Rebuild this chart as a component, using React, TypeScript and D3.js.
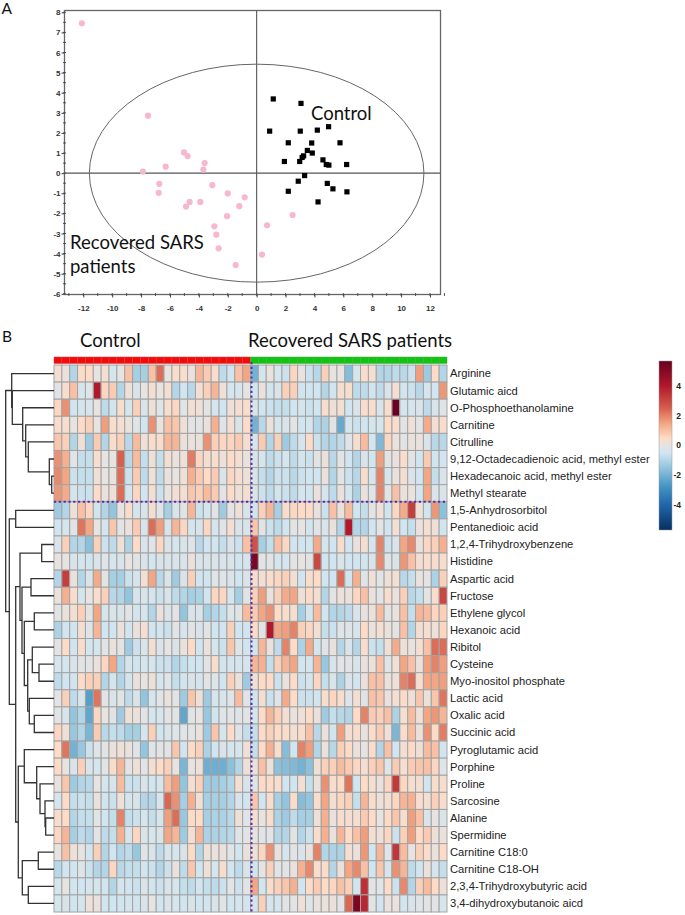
import React, { useEffect, useRef } from 'react';
import * as d3 from 'd3';

// Panel A: PCA scores
const recoveredX = [-12.1, -7.52, -5.03, -4.78, -6.3, -7.87, -3.6, -3.69, -6.74, -6.78, -3.07, -2.0, -0.83, -4.64, -4.89, -3.9, -1.2, -2.05, -2.93, -2.79, -2.63, -1.45, 0.37, 0.72, 2.49];
const recoveredY = [7.45, 2.86, 1.03, 0.85, 0.32, 0.08, 0.5, 0.18, -0.53, -0.98, -0.6, -1.01, -1.2, -1.43, -1.66, -1.43, -1.64, -2.14, -2.64, -3.06, -3.74, -4.57, -4.05, -2.59, -2.08];
const controlX = [1.15, 3.07, 0.9, 3.02, 4.2, 4.98, 2.19, 3.81, 5.77, 3.51, 3.85, 3.25, 3.15, 1.92, 2.98, 4.59, 4.82, 5.0, 6.23, 3.32, 2.88, 4.89, 5.28, 2.19, 6.25, 4.25];
const controlY = [3.69, 3.47, 2.09, 2.09, 2.14, 2.31, 1.51, 1.5, 1.51, 1.13, 1.0, 0.86, 0.78, 0.58, 0.58, 0.66, 0.43, 0.4, 0.43, -0.12, -0.4, -0.51, -0.78, -0.9, -0.93, -1.43];
const xTicks = [-12, -10, -8, -6, -4, -2, 0, 2, 4, 6, 8, 10, 12];
const yTicks = [-6, -5, -4, -3, -2, -1, 0, 1, 2, 3, 4, 5, 6, 7, 8];

// Panel B: heatmap
const metabolites = [
  'Arginine', 'Glutamic aicd', 'O-Phosphoethanolamine', 'Carnitine', 'Citrulline',
  '9,12-Octadecadienoic acid, methyl ester', 'Hexadecanoic acid, methyl ester', 'Methyl stearate',
  '1,5-Anhydrosorbitol', 'Pentanedioic acid', '1,2,4-Trihydroxybenzene', 'Histidine', 'Aspartic acid',
  'Fructose', 'Ethylene glycol', 'Hexanoic acid', 'Ribitol', 'Cysteine', 'Myo-inositol phosphate',
  'Lactic acid', 'Oxalic acid', 'Succinic acid', 'Pyroglutamic acid', 'Porphine', 'Proline', 'Sarcosine',
  'Alanine', 'Spermidine', 'Carnitine C18:0', 'Carnitine C18-OH', '2,3,4-Trihydroxybutyric acid',
  '3,4-dihydroxybutanoic aicd',
];

const controlValues = [
  [.3,.1,-1,.5,.5,0,.3,-.4,0,1,-1.2,-1.2,1,2.3,0,.4,.4,.1,1.2,.8,.4,-.8,-.5,1,1.5],
  [-.2,.4,1,-.4,-.2,4,.6,.8,-1,.2,-.3,0,.3,0,.3,-1,-.5,-.9,.3,.7,1.2,.2,-.4,-.4,0],
  [.6,1.8,-.5,-.4,-.3,0,-.8,-.5,.4,-.4,.7,-.3,.2,-.2,.4,.6,-.2,.3,.2,-.1,-.4,-.5,.2,.3,.4],
  [.4,.4,0,.5,.7,0,1.6,.4,.3,.1,-.2,-.5,1.8,0,1,.9,.2,-.1,-.1,.1,1.3,-.2,.3,-.3,.5],
  [.9,.7,-1,.2,-1.3,.8,-1,.4,.7,-.9,1.1,.2,.4,.4,1.2,1.2,.1,.1,.1,1.8,.7,.6,.6,.8,.3],
  [1.8,1.3,-.2,-.7,-.7,.4,0,0,2.5,-.9,1.1,-.7,.2,-.7,.3,.1,.2,2.1,.6,.3,.4,.2,.5,.3,.1],
  [1.9,1.5,-.6,-.7,-.7,.2,0,0,2.3,-.6,.8,-.8,.2,-.8,.1,0,.2,1.3,.8,.5,.8,-.3,.6,.3,.2],
  [1.7,1.4,-.4,-.6,-.6,.5,.1,.2,2.3,-.4,.6,-.5,.3,-.6,0,.3,.3,.9,.7,1.1,.8,-.1,.5,.2,.3],
  [-1.3,-1,.2,1,.6,-.5,-1,-1.5,0,.4,-.4,-.3,.3,-.2,-1.2,-.3,-.1,1.2,-.6,-.4,-.1,-1.3,-.1,.2,-.3],
  [-.5,-.4,-.1,2.2,1.5,0,-.4,.9,-.1,.1,.8,-.3,2.3,1.6,-.3,1.2,.6,-.4,-.3,.6,-.4,-.2,.3,-.3,-.3],
  [-.3,.7,-1,-1,-1.6,.7,-.6,-.8,.2,-1.1,.5,-.3,-.2,.6,-.3,-.4,-.3,-.2,-.9,-.5,-.5,-.7,-.3,-.6,1],
  [0,0,-.3,-.4,-.5,-.3,-.2,-.4,-.3,0,-.1,-.3,-.4,-.3,-.3,-.3,-.3,.1,-.3,-.3,-.3,-.3,-.3,-.5,-.4],
  [-1,3.2,.1,-1,-.3,1.4,-.1,-1.2,-1.2,-.6,-.4,.3,1.5,-.9,-.3,-1.3,-.3,.7,-.5,-.5,-.2,-.2,-.3,-.5,-.3],
  [.1,1.3,.4,-.4,0,.4,.7,-.9,-1,-1.5,-.4,-.3,-.4,-.6,-.3,-.8,-1,-1.2,-1.1,-.5,.6,.6,-.4,-1.2,-.1],
  [-.1,.1,.3,.7,-.1,1.5,-.4,-.3,-.3,-.1,-.4,-.4,-1,.1,-.3,-.1,-1.5,-.3,-.3,-1.2,-1,-.7,-.2,-.2,1.1],
  [-1.1,-.5,-.5,.3,-.2,1.2,-.5,-.5,.1,-.5,.1,.3,-.5,-.5,-.6,-.1,-.4,-.1,-.3,-.1,-.5,-.5,.7,-.5,-.5],
  [-.1,.5,-.5,.4,-.4,-.4,-.1,.1,-.1,-1.3,-.6,-.3,.3,-.3,0,-.3,.1,.5,-.5,.1,-.4,-.6,.9,-.2,-.5],
  [-.4,-.4,-.3,-.1,-.1,.1,.6,1.5,-1,-.4,-.5,-.4,-.4,-.6,-.6,-1,-.7,-.5,-.5,-.1,.4,-.5,-.4,-.4,-.4],
  [-.8,-.5,-.5,.5,.7,.7,-1,-.4,-1,-.5,.1,0,.2,-.4,-.2,-.7,-.5,-.3,-.4,-.1,-.2,-.5,.7,.1,-1.3],
  [-.1,.7,-.8,-.3,-2.5,2.2,-.1,-.3,-.1,-.8,-.3,-1.5,-.4,-.2,.1,-.1,-1.3,.9,.2,-1.3,-.4,-.3,-.2,1.1,-.2],
  [-.1,-.3,-1.5,-1,-2.3,.6,0,-.1,-1.3,.2,.1,-.1,-.4,-.4,-.1,-.1,-2.3,-.1,0,-1.4,-.5,-.2,-.1,-.2,-.1],
  [.6,.2,-1.4,-1,-1.9,.8,-.9,-.7,-.8,-1.2,-1.2,-.4,.7,-.5,-.3,-.2,-.2,-.1,.1,-1.3,.9,-.4,.5,-.2,-.7],
  [.5,2.2,-2,-1.4,-.6,-.2,-.1,.1,.2,.1,-.2,-1.5,-.2,-.1,-.1,.9,-.5,.5,.7,-1.1,-.5,-.3,-.4,-.4,.2],
  [.5,0,-.3,.7,-.3,-.4,-.1,.4,1.2,-.1,.2,-.1,.3,.5,.7,0,-1.9,0,.2,-2.1,-2.1,-2.1,-1.6,-1,.2],
  [.1,.9,-1.3,-1,-.9,0,-.4,-.4,1.1,-.6,-.6,-.3,-.5,-.4,1.1,1.6,-1.5,.3,.7,-1.3,-1.3,-1.2,-1,.3,-.3],
  [-.4,.5,-.7,-.6,-.7,.1,-.5,-.6,.2,-.4,-.3,-1,-1,-.4,2.4,1.8,-1.2,1.3,.2,-1.2,-1.2,-1.2,-1,-.3,-.5],
  [.4,.5,-1,-.7,-.7,-.1,-.5,-.7,2,-.7,-.6,-.4,-.7,-.4,1.6,2.3,-1.4,.5,.5,-1.2,-1.1,-1.1,-.9,.2,-.2],
  [.6,1.2,-1.2,-.8,-1,-.1,-.8,-.7,1.3,-.3,.6,-.3,-.4,-.3,1.5,1.2,-1.3,.3,1.2,-1.1,-1.1,-1,-.9,-.2,-.1],
  [0,1,.2,0,-.5,.7,-1,-.5,-1,-.8,-1.4,-.2,-.3,-.8,-.3,-.4,-.3,.5,-1,.2,.1,.1,-.1,-.5,.1],
  [-.9,-.5,-.5,-.2,-.6,-1,-1,.6,-.9,-.7,-.7,-.5,-.6,-1,-.6,.1,-.8,.9,-.5,.2,-.4,.4,-.5,-.8,-.3],
  [-.4,0,-.5,-.5,-.4,-.4,-.5,-1,-.4,-.5,-.6,-.3,-.5,-.6,-.3,-.4,-.7,-.8,-.5,-.7,-.8,-.6,-.1,-.6,-.1],
  [-.4,-.3,-.5,-.4,.2,.1,-.5,-.5,-.5,-.4,-.5,-.3,0,-.5,-.3,-.4,-.5,-.3,-.5,-.5,-.3,-.2,-.5,-.4,-.4],
];

const sarsValues = [
  [-2,-.4,.1,-.4,-.6,.6,0,-.6,-.9,.7,0,0,-1.7,-.4,.4,.3,-1,-1,-.8,-.9,-.6,1.6,-1.3,.5,-1],
  [-.5,.1,-.5,-.3,.7,.7,-.5,-.5,-.5,-1,-.5,.3,.4,-.8,-.8,-.5,-.8,-.3,.3,-.5,-.6,-.9,-.4,-.5,1.7],
  [-.3,-.5,-.6,-.7,-.7,-.5,-.4,-.6,-.5,.4,.2,.3,-.5,-.3,.4,.4,-.3,.4,5.6,-.4,-.4,-.3,-.8,-.3,-.2],
  [-2,-.9,.1,-.4,-.3,-.1,-.5,-.4,-1,-1.1,-.1,-2.2,-.4,-.6,-.5,-.4,-.4,.5,.4,-.1,.2,-.1,1.4,.3,.4],
  [-.4,.8,-1,.7,-1.3,-.8,-.4,.5,-.6,-1,-1,-.8,-.2,.3,1.1,-.4,-1.8,.6,.1,-.1,.1,.1,-.3,-.9,-.9],
  [-.3,-.4,-.8,-.6,-.4,-.8,-.5,-.6,-.1,.1,-.9,-.1,-.5,-1,-.3,-.5,1.6,-.1,.1,.4,-.1,-.5,.8,-.5,-.5],
  [-.3,-.7,-1,-.6,-.6,-.9,-.6,-.5,-.5,.1,-1,-.1,-.6,-.9,.4,-.4,2,-.4,.1,.3,-.3,-.5,1.5,-.7,-.3],
  [-.3,-.6,-.8,-.5,-.6,-.8,-.4,-.5,.1,-.4,-.8,.1,-.4,-1.1,.1,-.2,2,-.1,1,.1,.1,-.4,1.5,-.3,-.3],
  [-.5,.7,1.2,-1.2,.4,.6,.5,.5,.1,-.6,1,.1,1.1,-.5,-.7,-.1,.2,-.5,.6,1.4,3.2,.2,-.5,1.7,-1.6],
  [.9,-.1,-.6,-.8,-.5,-.1,0,-.5,-.1,-.3,.1,-1,4,-1,-1,-.5,-.1,-.5,.3,-.5,-.7,.1,.3,.2,-.5],
  [2.8,-1.2,-.7,1,.6,-.5,-.5,-.4,1.4,-.4,-.5,.4,-.5,.1,.3,-.4,2,-.6,-.3,1.5,1.9,.1,.6,.7,1.3],
  [5.3,-.1,-.1,-.4,-.4,-.1,0,-.1,3,-.5,-.5,-.3,-.5,-.5,-.5,-.3,1.9,-.2,-.3,1.7,1,.3,.4,.4,.4],
  [.4,.3,.4,.6,.7,.3,-.5,.4,.5,-.5,-.5,2.3,-.5,1.3,-.2,.2,-.1,.2,.3,-.9,-.7,.1,-.1,-1.1,.7],
  [.7,1.6,.1,.7,1.4,1.5,.2,.5,.3,-1,-.1,.2,.1,.6,1,.1,-.1,.4,.1,.7,-.9,-.7,-.1,.4,3],
  [.8,1.5,1.8,.5,.4,.3,-1.2,-.4,1.1,-.5,-1,-1,-.8,-.3,.1,.1,1.1,-.1,.1,1,-.7,1.2,1.1,.6,.7],
  [.5,-.1,4,1.5,1.6,2,.7,.6,.3,-.7,-.6,-.2,-.2,-.3,.5,.1,.3,.1,-.1,1,-1,.3,.3,.2,.6],
  [-.5,1.2,.1,-.8,2,.5,-1.1,1.4,-.4,-.2,.1,-1,-.3,-1,.4,-.6,-.7,.2,1.4,.2,.1,.3,1,2.3,2.3],
  [1.2,1.3,-.7,.7,1.2,1.5,-.5,-.4,1.2,-1.4,-.3,-.1,-.1,-.3,.1,.1,1,-.2,.2,1.5,1,.1,1.6,2,1.6],
  [.2,.5,.5,-.6,.1,.5,-.6,-.4,.6,-.7,-.3,-1.1,-.3,-.5,.1,1,1,.1,.2,2,2.3,.3,1.5,1.5,1.6],
  [-.5,.3,-.6,-.2,1.4,.5,-.6,-.6,-.5,.4,.6,.4,-.2,.3,-.1,1,.9,.1,.3,.5,.2,.9,.1,.9,2.2],
  [-.4,.5,1.2,.7,.3,.1,.2,.5,.1,-1.3,-.7,-.9,-1,.5,2,.8,.7,1,-1.1,.3,1.1,.2,1.5,1.7,1.2],
  [-.7,.5,.7,.5,.4,.3,.4,1,-.9,.1,-.5,1.6,.3,.4,.1,.4,.8,.2,-1.9,.4,1.1,.1,1.8,.5,2.1],
  [-.7,.5,1.3,.4,-1.7,-.5,2,1.6,-1,.1,-.9,.7,.5,.1,0,.4,-1,1,-.5,.3,.5,.2,1.1,1,-.5],
  [.1,1,.2,-1.6,-1.7,-1.8,-2,-1.6,.2,.7,.7,1.1,.8,.6,.3,.7,.9,-.2,.8,.3,.8,.9,1,.6,-.2],
  [-.2,.5,.5,.4,-.5,-.5,.3,-.7,.1,1.8,.4,.5,2.2,-.5,.5,.3,.1,.6,3.3,.6,.3,.3,-.5,.4,.4],
  [.9,-.5,.4,-1.2,-1.5,.4,-1.7,-1.5,.4,1.5,.3,.6,.7,-.7,1.2,.4,.2,.3,.6,1.2,1.3,.4,.3,.7,.4],
  [.3,0,.4,-1.1,-1.3,-.8,-1.2,-1.2,.2,1.3,.1,.4,.3,.3,.8,.5,0,.5,.9,.3,1.6,1,-.3,0,-.3],
  [0,-.1,-.1,-1,-1,-.1,-1,-.6,.4,1.3,.1,1.2,.5,1,1.6,.3,.2,.6,-.6,.7,1.6,.5,.8,.2,.1],
  [.2,.6,1.8,.1,-.4,-.1,-.3,.1,2,-1,-1.1,-1.1,.3,.1,1.7,-.5,1.2,-.2,3.4,1.1,0,.7,.4,.1,.5],
  [-.5,0,.7,-.1,-.1,.1,1.3,1.9,.4,.5,-1,.1,1.5,1.9,1,-.5,.9,-.4,1.8,1.2,-.8,-.5,.1,-.4,-.7],
  [1.5,-.5,.4,.7,.9,1.3,-.5,.5,.8,.5,.6,1,.7,-.5,3.5,-.1,-.2,.5,-.6,1.9,-1,.7,1.1,.5,.2],
  [-.4,.7,-.4,-.4,-.1,-.1,.2,-.2,.1,.1,.1,-.1,2.4,5.2,3.7,-.1,-.5,.1,.1,-.5,-.3,-.2,-.1,-.1,-.4],
];

// row clustering: [merge height, left, right], a plain number is a leaf row
type Merge = number | [number, Merge, Merge];
const rowTree: Merge = [48.3,
  [42.3, 0, [41.7, 1, [31.3, 2, [28.3, 3, [25.7, 4, [4.7, 5, [2.3, 6, 7]]]]]]],
  [44.7,
    [38.3, 8, 9],
    [38.3,
      [34, [12.3, 10, 11], [32, [23, 12, 13], [29.7, [19.7, 14, 15], [26.3, [21.7, 16, [15, 17, 18]], [24.7, 19, [19.7, 20, 21]]]]]],
      [35.7,
        [29.7, 22, [17.3, 23, [14, 24, [9, 25, [8.3, 26, 27]]]]],
        [31.7, [15.7, 28, 29], [25.7, 30, 31]],
      ],
    ],
  ],
];

const colorDomain = [-5.7, -4, -2.8, -1.5, -0.5, 0, 0.5, 1.5, 2.5, 4, 5.7];
const colorRange = ['#053061', '#2166ac', '#4393c3', '#92c5de', '#d1e5f0', '#e6e3e1', '#fddbc7', '#f4a582', '#d6604d', '#b2182b', '#67001f'];
const legendTicks = [4, 2, 0, -2, -4];

const FONT_LABEL = 'Lato, sans-serif';
const FONT_ROW = '"Liberation Sans", Arial, sans-serif';

const App: React.FC = () => {
  const svgRef = useRef<SVGSVGElement>(null);

  useEffect(() => {
    if (!svgRef.current) return;
    const svg = d3.select(svgRef.current);
    svg.selectAll('*').remove();

    // ---- Panel A ----
    const x = d3.scaleLinear().domain([-12, 12]).range([83.3, 430]);
    const y = d3.scaleLinear().domain([-6, 8]).range([293.8, 12.3]);
    const left = 64.5;
    const right = 440.5;
    const top = 10.5;
    const bottom = 294.5;
    const axisColor = '#444';
    const intLabel = (d: d3.NumberValue) => String(d);

    svg.append('rect').attr('x', left).attr('y', top).attr('width', right - left).attr('height', bottom - top)
      .attr('fill', 'none').attr('stroke', '#666').attr('stroke-width', 1.3);

    // small ticks first, the labelled ones go on top
    svg.append('g').selectAll('line').data(d3.range(-13, 13.01, 1)).join('line')
      .attr('x1', (d) => x(d)).attr('x2', (d) => x(d)).attr('y1', bottom - 1.5).attr('y2', bottom + 1.5)
      .attr('stroke', axisColor).attr('stroke-width', 0.9);
    svg.append('g').selectAll('line').data(d3.range(-6, 8.01, 0.5)).join('line')
      .attr('x1', left - 1.5).attr('x2', left + 1.5).attr('y1', (d) => y(d)).attr('y2', (d) => y(d))
      .attr('stroke', axisColor).attr('stroke-width', 0.9);

    const xAxis = svg.append('g').attr('transform', `translate(0,${bottom})`)
      .call(d3.axisBottom(x).tickValues(xTicks).tickSize(3).tickFormat(intLabel));
    const yAxis = svg.append('g').attr('transform', `translate(${left},0)`)
      .call(d3.axisLeft(y).tickValues(yTicks).tickSize(3).tickFormat(intLabel));
    [xAxis, yAxis].forEach((a) => {
      a.select('.domain').remove();
      a.selectAll('line').attr('stroke', axisColor).attr('stroke-width', 1);
      a.selectAll('text').attr('font-family', FONT_ROW).attr('font-size', 8).attr('font-weight', 700).attr('fill', '#333');
    });
    xAxis.selectAll('text').attr('dy', '1.25em');
    yAxis.selectAll('text').attr('x', -4);

    // zero lines and Hotelling ellipse
    svg.append('line').attr('x1', x(0)).attr('x2', x(0)).attr('y1', top).attr('y2', bottom)
      .attr('stroke', '#555').attr('stroke-width', 1.1);
    svg.append('line').attr('x1', left).attr('x2', right).attr('y1', y(0)).attr('y2', y(0))
      .attr('stroke', '#555').attr('stroke-width', 1.1);
    svg.append('ellipse').attr('cx', x(0)).attr('cy', y(0))
      .attr('rx', x(11.58) - x(0)).attr('ry', y(0) - y(5.42))
      .attr('fill', 'none').attr('stroke', '#666').attr('stroke-width', 1);

    svg.append('g').selectAll('circle').data(recoveredX).join('circle')
      .attr('cx', (d) => x(d)).attr('cy', (_, i) => y(recoveredY[i])).attr('r', 3.1).attr('fill', '#f8b8cb');
    svg.append('g').selectAll('rect').data(controlX).join('rect')
      .attr('x', (d) => x(d) - 2.6).attr('y', (_, i) => y(controlY[i]) - 2.6).attr('width', 5.2).attr('height', 5.2).attr('fill', '#000');

    const addText = (t: string, px: number, py: number, size: number) =>
      svg.append('text').attr('x', px).attr('y', py).attr('font-family', FONT_LABEL).attr('font-size', size).attr('fill', '#111').text(t);

    addText('A', 1.5, 14, 15.5);
    addText('B', 2, 342, 15.5);
    addText('Control', 311, 120, 18.5);
    addText('Recovered SARS', 70, 249, 18.5);
    addText('patients', 70, 273, 18.5);
    addText('Control', 80, 347, 18.5);
    addText('Recovered SARS patients', 248, 347, 18.5);

    // ---- Panel B ----
    const matrix = metabolites.map((_, i) => [...controlValues[i], ...sarsValues[i]]);
    const nCols = controlValues[0].length + sarsValues[0].length;
    const colX = d3.scaleBand<number>().domain(d3.range(nCols)).range([54, 447]);
    const rowY = d3.scaleBand<number>().domain(d3.range(metabolites.length)).range([365, 912]);
    const color = d3.scaleLinear<string>().domain(colorDomain).range(colorRange).clamp(true);
    const gridColor = '#a3a3a3';

    // group annotation strip
    svg.append('g').selectAll('rect').data(d3.range(nCols)).join('rect')
      .attr('x', (d) => colX(d)!).attr('y', 357).attr('width', colX.bandwidth()).attr('height', 6.5)
      .attr('fill', (d) => (d < controlValues[0].length ? '#f50a0a' : '#12c412'))
      .attr('stroke', (d) => (d < controlValues[0].length ? '#c44' : '#4a4')).attr('stroke-width', 0.5);

    const rows = svg.append('g').selectAll('g').data(matrix).join('g')
      .attr('transform', (_, i) => `translate(0,${rowY(i)})`);
    rows.selectAll('rect').data((d) => d).join('rect')
      .attr('x', (_, j) => colX(j)!).attr('width', colX.bandwidth()).attr('height', rowY.bandwidth())
      .attr('fill', (d) => color(d)).attr('stroke', gridColor).attr('stroke-width', 1);

    svg.append('g').selectAll('text').data(metabolites).join('text')
      .attr('x', 450).attr('y', (_, i) => rowY(i)! + rowY.bandwidth() / 2).attr('dy', '0.35em')
      .attr('font-family', FONT_ROW).attr('font-size', 11.2).attr('fill', '#222').text((d) => d);

    // cluster separators
    const split = colX(controlValues[0].length)!;
    svg.append('line').attr('x1', split + 1).attr('x2', split + 1).attr('y1', 362).attr('y2', 912)
      .attr('stroke', '#5b2aa6').attr('stroke-width', 2).attr('stroke-dasharray', '2.2 2.6');
    svg.append('line').attr('x1', 54).attr('x2', 447).attr('y1', rowY(8)!).attr('y2', rowY(8)!)
      .attr('stroke', '#5b2aa6').attr('stroke-width', 2).attr('stroke-dasharray', '2.2 2.6');

    // dendrogram
    const heightX = d3.scaleLinear().domain([0, 50]).range([54, 4]);
    const dendro = svg.append('g').attr('fill', 'none').attr('stroke', '#333').attr('stroke-width', 1.3);
    const layout = (node: Merge): { px: number; py: number } => {
      if (typeof node === 'number') return { px: heightX(0), py: rowY(node)! + rowY.bandwidth() / 2 };
      const [h, a, b] = node;
      const ca = layout(a);
      const cb = layout(b);
      const px = heightX(h);
      const path = d3.path();
      path.moveTo(ca.px, ca.py);
      path.lineTo(px, ca.py);
      path.lineTo(px, cb.py);
      path.lineTo(cb.px, cb.py);
      dendro.append('path').attr('d', path.toString());
      return { px, py: (ca.py + cb.py) / 2 };
    };
    layout(rowTree);

    // colour legend
    const legendY = d3.scaleLinear().domain([-5.72, 5.72]).range([530, 361]);
    const defs = svg.append('defs');
    const grad = defs.append('linearGradient').attr('id', 'legendGrad').attr('x1', 0).attr('x2', 0).attr('y1', 1).attr('y2', 0);
    colorDomain.forEach((d, i) => {
      grad.append('stop').attr('offset', (d + 5.7) / 11.4).attr('stop-color', colorRange[i]);
    });
    svg.append('rect').attr('x', 659).attr('y', legendY(5.72)).attr('width', 13).attr('height', legendY(-5.72) - legendY(5.72))
      .attr('fill', 'url(#legendGrad)').attr('stroke', '#999').attr('stroke-width', 0.5);
    svg.append('g').selectAll('text').data(legendTicks).join('text')
      .attr('x', 681).attr('y', (d) => legendY(d)).attr('dy', '0.35em').attr('text-anchor', 'end')
      .attr('font-family', FONT_ROW).attr('font-size', 8.5).attr('font-weight', 700).attr('fill', '#222').text((d) => String(d));
  }, []);

  return (
    <svg ref={svgRef} width="685" height="915" style={{ position: 'absolute', left: 0, top: 0, background: '#fff' }} />
  );
};

export default App;
